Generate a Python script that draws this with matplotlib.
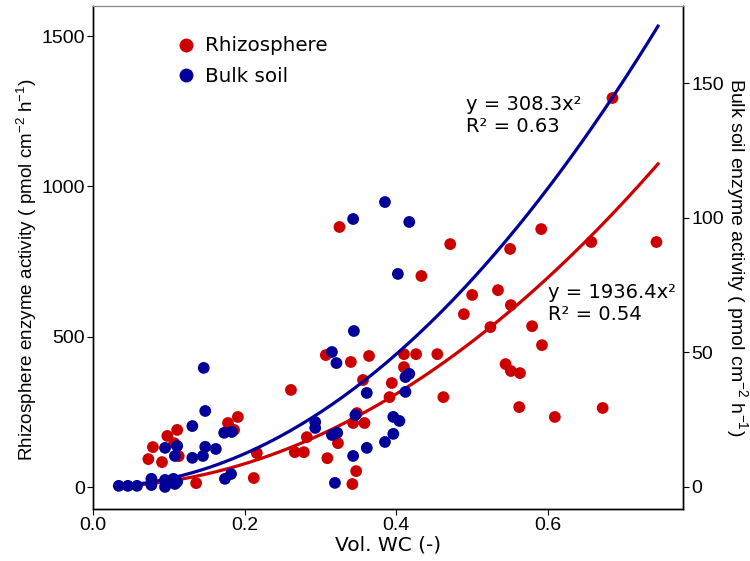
import numpy as np
import matplotlib
matplotlib.use('Agg')
from matplotlib import pyplot as plt
from matplotlib.lines import Line2D

plt.rcParams['font.family'] = ['DejaVu Sans']
plt.rcParams['mathtext.fontset'] = 'custom'
plt.rcParams['mathtext.rm'] = 'Liberation Sans'
plt.rcParams['mathtext.it'] = 'Liberation Sans'

# rhizosphere (left axis)
rhizo_wc = [0.073, 0.079, 0.091, 0.098, 0.111, 0.107, 0.113, 0.136, 0.178, 0.191,
            0.186, 0.212, 0.216, 0.261, 0.266, 0.278, 0.282, 0.309, 0.323, 0.342,
            0.347, 0.343, 0.358, 0.348, 0.307, 0.340, 0.364, 0.410, 0.426, 0.454,
            0.410, 0.394, 0.356, 0.391, 0.325, 0.433, 0.471, 0.500, 0.489, 0.524,
            0.462, 0.550, 0.591, 0.657, 0.743, 0.534, 0.551, 0.579, 0.592, 0.544,
            0.551, 0.563, 0.562, 0.609, 0.672, 0.685]
rhizo_act = [93, 133, 83, 170, 190, 146, 103, 13, 213, 233,
             190, 30, 113, 323, 116, 116, 166, 96, 146, 10,
             53, 213, 213, 246, 439, 416, 436, 442, 442, 442,
             399, 346, 356, 299, 865, 702, 808, 639, 575, 532,
             299, 792, 858, 815, 815, 655, 605, 535, 472, 409,
             386, 379, 266, 233, 263, 1294]

# bulk soil (right axis)
bulk_wc = [0.034, 0.046, 0.058, 0.077, 0.077, 0.095, 0.095, 0.106, 0.108, 0.111,
           0.095, 0.111, 0.108, 0.131, 0.131, 0.148, 0.148, 0.145, 0.162, 0.173,
           0.183, 0.174, 0.182, 0.146, 0.293, 0.293, 0.315, 0.322, 0.319, 0.343,
           0.346, 0.361, 0.361, 0.385, 0.396, 0.396, 0.404, 0.412, 0.412, 0.417,
           0.315, 0.321, 0.344, 0.402, 0.343, 0.385, 0.417]
bulk_act = [0.4, 0.4, 0.4, 3.0, 0.7, 2.6, 0.0, 3.0, 1.1, 1.9,
            14.5, 15.2, 11.5, 10.8, 22.6, 28.2, 14.9, 11.5, 14.1, 20.1,
            20.4, 3.0, 4.8, 44.2, 24.1, 21.9, 19.3, 20.1, 1.5, 11.5,
            26.7, 34.9, 14.5, 16.7, 19.7, 26.0, 24.5, 35.3, 40.8, 42.0,
            50.1, 46.0, 57.9, 79.1, 99.5, 105.8, 98.4]

rhizo_coef = 1936.4
bulk_coef = 308.3

red = '#CC0000'
blue = '#000099'
tickfont = {'family': 'Liberation Sans', 'size': 14}

fig = plt.figure(figsize=(7.5, 5.61), dpi=100)
ax = fig.add_axes([0.124, 0.0927, 0.7867, 0.8966])
ax2 = ax.twinx()

xfit = np.linspace(0.034, 0.745, 200)

ax.scatter(rhizo_wc, rhizo_act, s=72, color=red, edgecolors='none', zorder=3)
ax.plot(xfit, rhizo_coef * xfit**2, color=red, lw=2.3, zorder=2)
ax2.scatter(bulk_wc, bulk_act, s=72, color=blue, edgecolors='none', zorder=3)
ax2.plot(xfit, bulk_coef * xfit**2, color=blue, lw=2.3, zorder=2)

ax.set_xlim(0, 0.778)
ax.set_ylim(-73, 1600)
ax2.set_ylim(-8.2, 178.6)
ax.set_xticks([0.0, 0.2, 0.4, 0.6])
ax.set_yticks([0, 500, 1000, 1500])
ax2.set_yticks([0, 50, 100, 150])

for a in (ax, ax2):
    a.tick_params(length=4, width=0.8, colors='black', pad=2)
    for lab in a.get_xticklabels() + a.get_yticklabels():
        lab.set_fontproperties(tickfont)
    a.spines['top'].set_color('#888888')
    a.spines['top'].set_linewidth(0.8)
    a.spines['left'].set_linewidth(1.0)
    a.spines['right'].set_linewidth(1.0)
    a.spines['bottom'].set_linewidth(1.0)

ax.set_xlabel('Vol. WC (-)', fontsize=14.5, labelpad=1)
ax.set_ylabel(r'Rhizosphere enzyme activity ( pmol cm$^{-2}$ h$^{-1}$)',
              family='Liberation Sans', fontsize=13.6)
ax.yaxis.set_label_coords(-0.092, 0.475)
ax2.set_ylabel(r'Bulk soil enzyme activity ( pmol cm$^{-2}$ h$^{-1}$)',
               family='Liberation Sans', fontsize=14, rotation=270, labelpad=19)

ax.text(0.492, 1305, 'y = 308.3x²\nR² = 0.63', fontsize=14, va='top', ha='left',
        linespacing=1.2)
ax.text(0.600, 680, 'y = 1936.4x²\nR² = 0.54', fontsize=14, va='top', ha='left',
        linespacing=1.2)

handles = [Line2D([], [], ls='none', marker='o', ms=9, color=red),
           Line2D([], [], ls='none', marker='o', ms=9, color=blue)]
ax2.legend(handles, ['Rhizosphere', 'Bulk soil'], loc='upper left',
           bbox_to_anchor=(0.1, 0.975), frameon=False, fontsize=14.3,
           handletextpad=0.15, labelspacing=0.6, handlelength=1.6)

fig.savefig('out.png', dpi=100)
